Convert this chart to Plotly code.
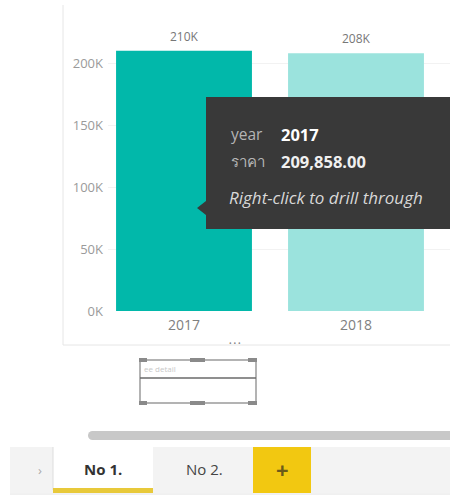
import plotly.graph_objects as go

years = ["2017", "2018"]
prices = [209858, 207900]
bar_colors = ["#01B8AA", "#9BE3DD"]
tick_vals = [0, 50000, 100000, 150000, 200000]
tick_text = ["0K", "50K", "100K", "150K", "200K"]
tooltip_year = "2017"
tooltip_price = "209,858.00"
tabs = ["No 1.", "No 2."]

W, H = 450, 499
L, R, T = 108, 0, 20
B = H - 311
PW, PH = W - L - R, H - T - B


def px(x):
    return (x - L) / PW


def py(y):
    return (H - B - y) / PH


FONT = "Open Sans, Noto Sans, DejaVu Sans, sans-serif"

fig = go.Figure()
fig.add_trace(go.Bar(
    x=[0, 1], y=prices, marker=dict(color=bar_colors, line=dict(width=0)),
    width=0.79, hoverinfo="skip",
))

labels = [f"{round(v / 1000)}K" for v in prices]
annotations = []
for i, (v, t) in enumerate(zip(prices, labels)):
    annotations.append(dict(x=i, y=v, xref="x", yref="y", text=t, showarrow=False,
                            yanchor="bottom", yshift=4,
                            font=dict(size=12, color="#777777", family=FONT)))

shapes = []
# chart frame
shapes.append(dict(type="line", xref="paper", yref="paper", x0=px(63), x1=px(63), y0=py(5), y1=py(345),
                   line=dict(color="#e6e6e6", width=1), layer="below"))
shapes.append(dict(type="line", xref="paper", yref="paper", x0=px(63), x1=px(452), y0=py(345), y1=py(345),
                   line=dict(color="#e6e6e6", width=1), layer="below"))
# tooltip box with arrow
path = (f"M {px(206)},{py(97)} L {px(452)},{py(97)} L {px(452)},{py(229)} L {px(206)},{py(229)} "
        f"L {px(206)},{py(215)} L {px(197)},{py(208)} L {px(206)},{py(201)} Z")
shapes.append(dict(type="path", xref="paper", yref="paper", path=path,
                   fillcolor="#393939", line=dict(width=0), layer="above"))
# small widget box
shapes.append(dict(type="rect", xref="paper", yref="paper", x0=px(140), x1=px(256), y0=py(360), y1=py(403),
                   line=dict(color="#9a9a9a", width=1.5), fillcolor="#ffffff"))
shapes.append(dict(type="line", xref="paper", yref="paper", x0=px(140), x1=px(256), y0=py(378), y1=py(378),
                   line=dict(color="#6a6a6a", width=1.5)))
for hx0, hx1 in [(139, 147), (190, 205), (248, 257)]:
    for hy in (360, 403):
        shapes.append(dict(type="rect", xref="paper", yref="paper", x0=px(hx0), x1=px(hx1),
                           y0=py(hy - 2), y1=py(hy + 2), line=dict(width=0), fillcolor="#8a8a8a"))
# scrollbar
shapes.append(dict(type="rect", xref="paper", yref="paper", x0=px(92), x1=px(452), y0=py(431), y1=py(440),
                   line=dict(width=0), fillcolor="#c8c8c8"))
shapes.append(dict(type="circle", xref="paper", yref="paper", x0=px(88), x1=px(97), y0=py(431), y1=py(440),
                   line=dict(width=0), fillcolor="#c8c8c8"))
# tab bar
shapes.append(dict(type="rect", xref="paper", yref="paper", x0=px(10), x1=px(452), y0=py(447), y1=py(493),
                   line=dict(width=0), fillcolor="#f3f3f3"))
shapes.append(dict(type="rect", xref="paper", yref="paper", x0=px(53), x1=px(153), y0=py(447), y1=py(493),
                   line=dict(width=0), fillcolor="#ffffff"))
shapes.append(dict(type="line", xref="paper", yref="paper", x0=px(53), x1=px(53), y0=py(447), y1=py(490),
                   line=dict(color="#dddddd", width=1)))
shapes.append(dict(type="rect", xref="paper", yref="paper", x0=px(53), x1=px(153), y0=py(488), y1=py(493),
                   line=dict(width=0), fillcolor="#e8c93a"))
shapes.append(dict(type="rect", xref="paper", yref="paper", x0=px(253), x1=px(311), y0=py(447), y1=py(493),
                   line=dict(width=0), fillcolor="#f2c811"))
shapes.append(dict(type="line", xref="paper", yref="paper", x0=px(10), x1=px(452), y0=py(494), y1=py(494),
                   line=dict(color="#e2e2e2", width=1)))


def ann(x, y, text, size, color, xanchor="left"):
    annotations.append(dict(x=px(x), y=py(y), xref="paper", yref="paper", text=text, showarrow=False,
                            xanchor=xanchor, yanchor="middle",
                            font=dict(size=size, color=color, family=FONT)))


ann(229, 134, "year", 15.5, "#b5b5b5")
ann(279, 134, f"<b>{tooltip_year}</b>", 16.5, "#ffffff")
ann(229, 161, "ราคา", 15, "#b5b5b5")
ann(279, 161, f"<b>{tooltip_price}</b>", 16.5, "#f0f0f0")
ann(227, 197, "<i>Right-click to drill through</i>", 17, "#d8d8d8")
ann(235, 343, "• • •", 7, "#888888", xanchor="center")
ann(142, 368, "ee detail", 8, "#c8c8c8")
ann(40, 470, "›", 13, "#aaaaaa", xanchor="center")
ann(103, 469, f"<b>{tabs[0]}</b>", 15, "#333333", xanchor="center")
ann(204, 469, tabs[1], 15, "#444444", xanchor="center")
ann(282, 469, "<b>+</b>", 22, "#6b5a1a", xanchor="center")

fig.update_layout(
    width=W, height=H, margin=dict(l=L, r=R, t=T, b=B, autoexpand=False),
    paper_bgcolor="#ffffff", plot_bgcolor="#ffffff",
    showlegend=False, bargap=0.21, hovermode=False,
    font=dict(family=FONT),
    xaxis=dict(range=[-0.5 + 10 / 172, -0.5 + 10 / 172 + PW / 172], tickvals=[0, 1], ticktext=years,
               showgrid=False, zeroline=False, showline=False, ticks="",
               tickfont=dict(size=14, color="#808080", family=FONT), ticklabelstandoff=4),
    yaxis=dict(range=[0, PH / 1.24 * 1000], tickvals=tick_vals, ticktext=tick_text,
               showgrid=True, gridcolor="#f2f2f2", zeroline=False, showline=False, ticks="",
               tickfont=dict(size=13, color="#9a9a9a", family=FONT), ticklabelstandoff=4),
    shapes=shapes, annotations=annotations,
)

fig.write_html("out.html", config={"displayModeBar": False},
               post_script="document.body.style.margin='0';document.body.style.overflow='hidden';")
